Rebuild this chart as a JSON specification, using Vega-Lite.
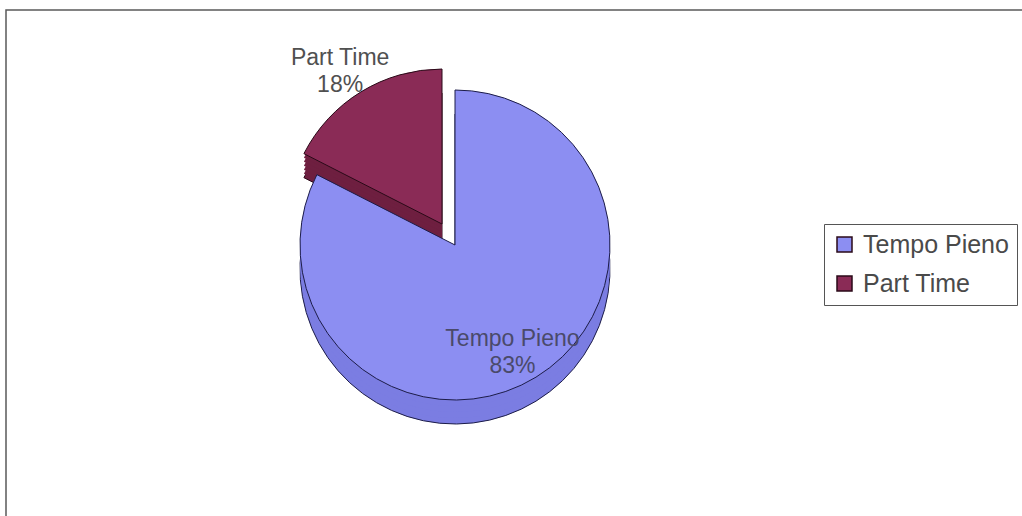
{
  "$schema": "https://vega.github.io/schema/vega-lite/v6.json",
  "width": 1020,
  "height": 510,
  "autosize": {"type": "none"},
  "padding": {"left": 6, "top": 10, "right": -4, "bottom": -4},
  "background": "white",
  "view": {"stroke": "#5a5a5a", "strokeWidth": 1.5, "fill": "white"},
  "config": {
    "font": "Liberation Sans"
  },
  "data": {
    "values": [
      {"cat": "Tempo Pieno", "share": 0.825, "k": 1},
      {"cat": "Part Time", "share": 0.175, "k": 2}
    ]
  },
  "transform": [
    {"calculate": "datum.cat + '\\n' + format(datum.share, '.0%')", "as": "label"}
  ],
  "encoding": {
    "theta": {"field": "share", "type": "quantitative", "stack": true},
    "order": {"field": "k", "type": "quantitative"}
  },
  "layer": [
    {
      "mark": {"type": "arc", "radius": 155, "x": {"expr": "width*0.4402"}, "y": {"expr": "height*0.4608"}, "xOffset": -13, "yOffset": 3, "fill": "#6e1f40", "stroke": "#2a0a18", "strokeWidth": 1},
      "encoding": {"opacity": {"condition": {"test": "datum.cat == 'Part Time'", "value": 1}, "value": 0}}
    },
    {
      "mark": {"type": "arc", "radius": 155, "x": {"expr": "width*0.4402"}, "y": {"expr": "height*0.4608"}, "xOffset": -13, "yOffset": -1, "fill": "#6e1f40"},
      "encoding": {"opacity": {"condition": {"test": "datum.cat == 'Part Time'", "value": 1}, "value": 0}}
    },
    {
      "mark": {"type": "arc", "radius": 155, "x": {"expr": "width*0.4402"}, "y": {"expr": "height*0.4608"}, "xOffset": -13, "yOffset": -5, "fill": "#6e1f40"},
      "encoding": {"opacity": {"condition": {"test": "datum.cat == 'Part Time'", "value": 1}, "value": 0}}
    },
    {
      "mark": {"type": "arc", "radius": 155, "x": {"expr": "width*0.4402"}, "y": {"expr": "height*0.4608"}, "xOffset": -13, "yOffset": -9, "fill": "#6e1f40"},
      "encoding": {"opacity": {"condition": {"test": "datum.cat == 'Part Time'", "value": 1}, "value": 0}}
    },
    {
      "mark": {"type": "arc", "radius": 155, "x": {"expr": "width*0.4402"}, "y": {"expr": "height*0.4608"}, "xOffset": -13, "yOffset": -13, "fill": "#6e1f40"},
      "encoding": {"opacity": {"condition": {"test": "datum.cat == 'Part Time'", "value": 1}, "value": 0}}
    },
    {
      "mark": {"type": "arc", "radius": 155, "x": {"expr": "width*0.4402"}, "y": {"expr": "height*0.4608"}, "xOffset": -13, "yOffset": -17, "fill": "#6e1f40"},
      "encoding": {"opacity": {"condition": {"test": "datum.cat == 'Part Time'", "value": 1}, "value": 0}}
    },
    {
      "mark": {"type": "arc", "radius": 155, "x": {"expr": "width*0.4402"}, "y": {"expr": "height*0.4608"}, "xOffset": -13, "yOffset": -21, "stroke": "#2a0a18", "strokeWidth": 1},
      "encoding": {
        "color": {"field": "cat", "type": "nominal", "scale": {"domain": ["Tempo Pieno", "Part Time"], "range": ["#8c8ef2", "#8a2b56"]}},
        "opacity": {"condition": {"test": "datum.cat == 'Part Time'", "value": 1}, "value": 0}
      }
    },
    {
      "mark": {"type": "arc", "radius": 155, "x": {"expr": "width*0.4402"}, "y": {"expr": "height*0.4608"}, "yOffset": 24, "fill": "#7b7de2", "stroke": "#1c1c48", "strokeWidth": 1},
      "encoding": {"opacity": {"condition": {"test": "datum.cat == 'Tempo Pieno'", "value": 1}, "value": 0}}
    },
    {
      "mark": {"type": "arc", "radius": 155, "x": {"expr": "width*0.4402"}, "y": {"expr": "height*0.4608"}, "yOffset": 18, "fill": "#7b7de2"},
      "encoding": {"opacity": {"condition": {"test": "datum.cat == 'Tempo Pieno'", "value": 1}, "value": 0}}
    },
    {
      "mark": {"type": "arc", "radius": 155, "x": {"expr": "width*0.4402"}, "y": {"expr": "height*0.4608"}, "yOffset": 12, "fill": "#7b7de2"},
      "encoding": {"opacity": {"condition": {"test": "datum.cat == 'Tempo Pieno'", "value": 1}, "value": 0}}
    },
    {
      "mark": {"type": "arc", "radius": 155, "x": {"expr": "width*0.4402"}, "y": {"expr": "height*0.4608"}, "yOffset": 6, "fill": "#7b7de2"},
      "encoding": {"opacity": {"condition": {"test": "datum.cat == 'Tempo Pieno'", "value": 1}, "value": 0}}
    },
    {
      "mark": {"type": "arc", "radius": 155, "x": {"expr": "width*0.4402"}, "y": {"expr": "height*0.4608"}, "stroke": "#1c1c48", "strokeWidth": 1},
      "encoding": {
        "color": {"field": "cat", "type": "nominal", "scale": {"domain": ["Tempo Pieno", "Part Time"], "range": ["#8c8ef2", "#8a2b56"]},
          "legend": {"title": null, "orient": "none", "legendX": 818, "legendY": 214, "symbolType": "square", "symbolSize": 225, "symbolStrokeColor": "#222", "symbolStrokeWidth": 1.5, "labelFontSize": 25, "labelColor": "#4a4a4a", "labelFont": "Liberation Sans", "strokeColor": "#555", "padding": 8, "rowPadding": 13, "labelOffset": 6, "fillColor": "white", "symbolOpacity": 1, "labelLimit": 300}},
        "opacity": {"condition": {"test": "datum.cat == 'Tempo Pieno'", "value": 1}, "value": 0}
      }
    },
    {
      "mark": {"type": "text", "radius": 195, "x": {"expr": "width*0.4402"}, "y": {"expr": "height*0.4608"}, "xOffset": -13, "yOffset": -21, "lineBreak": "\n", "fontSize": 23, "color": "#505050", "lineHeight": 27},
      "encoding": {
        "text": {"field": "label"},
        "opacity": {"condition": {"test": "datum.cat == 'Part Time'", "value": 1}, "value": 0}
      }
    },
    {
      "mark": {"type": "text", "radius": 110, "x": {"expr": "width*0.4402"}, "y": {"expr": "height*0.4608"}, "lineBreak": "\n", "fontSize": 23, "color": "#4a4a6a", "lineHeight": 27},
      "encoding": {
        "text": {"field": "label"},
        "opacity": {"condition": {"test": "datum.cat == 'Tempo Pieno'", "value": 1}, "value": 0}
      }
    }
  ]
}
